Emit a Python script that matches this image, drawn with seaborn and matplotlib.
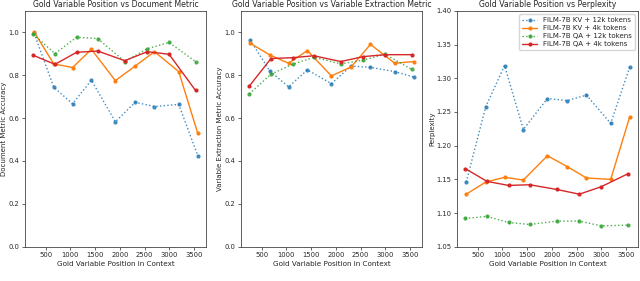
import numpy as np
import pandas as pd
import matplotlib
matplotlib.use("Agg")
import matplotlib.pyplot as plt
import seaborn as sns

# Gold variable positions (bin centres) for each model family
kv_pos = [270, 665, 1045, 1425, 1910, 2310, 2700, 3190, 3575]
qa_pos = [250, 690, 1125, 1555, 2100, 2555, 2995, 3530]

series_names = ["FILM-7B KV + 12k tokens", "FILM-7B KV + 4k tokens",
                "FILM-7B QA + 12k tokens", "FILM-7B QA + 4k tokens"]

# Document metric accuracy
doc_kv12 = [0.995, 0.744, 0.667, 0.777, 0.583, 0.674, 0.654, 0.664, 0.425]
doc_kv4 = [1.001, 0.853, 0.836, 0.921, 0.775, 0.843, 0.910, 0.817, 0.529]
doc_qa12 = [0.991, 0.901, 0.977, 0.971, 0.864, 0.924, 0.953, 0.864]
doc_qa4 = [0.893, 0.851, 0.907, 0.913, 0.868, 0.910, 0.898, 0.729]

# Variable extraction metric accuracy
var_kv12 = [0.964, 0.820, 0.746, 0.825, 0.761, 0.843, 0.837, 0.817, 0.792]
var_kv4 = [0.949, 0.895, 0.856, 0.915, 0.797, 0.839, 0.944, 0.856, 0.864]
var_qa12 = [0.713, 0.805, 0.851, 0.884, 0.853, 0.871, 0.898, 0.828]
var_qa4 = [0.749, 0.878, 0.882, 0.891, 0.864, 0.887, 0.896, 0.896]

# Perplexity
ppl_kv12 = [1.146, 1.258, 1.319, 1.224, 1.270, 1.267, 1.275, 1.233, 1.317]
ppl_kv4 = [1.128, 1.146, 1.153, 1.149, 1.185, 1.169, 1.152, 1.150, 1.243]
ppl_qa12 = [1.092, 1.095, 1.086, 1.083, 1.088, 1.088, 1.081, 1.082]
ppl_qa4 = [1.166, 1.147, 1.141, 1.142, 1.135, 1.128, 1.139, 1.158]

sns.set_style("ticks")
plt.rcParams["font.family"] = ["DejaVu Sans"]

colors = sns.color_palette("tab10", 4)
styles = [":", "-", ":", "-"]

fig = plt.figure(figsize=(6.4, 2.81), dpi=100)
lefts = [25 / 640, 241 / 640, 457 / 640]
axes = [fig.add_axes([l, 0.122, 181 / 640, 0.839]) for l in lefts]

panels = [
    ("Gold Variable Position vs Document Metric", "Document Metric Accuracy",
     [doc_kv12, doc_kv4, doc_qa12, doc_qa4], (0, 1.1), [0, 0.2, 0.4, 0.6, 0.8, 1.0], "{:.1f}"),
    ("Gold Variable Position vs Variable Extraction Metric", "Variable Extraction Metric Accuracy",
     [var_kv12, var_kv4, var_qa12, var_qa4], (0, 1.1), [0, 0.2, 0.4, 0.6, 0.8, 1.0], "{:.1f}"),
    ("Gold Variable Position vs Perplexity", "Perplexity",
     [ppl_kv12, ppl_kv4, ppl_qa12, ppl_qa4], (1.05, 1.40),
     [1.05, 1.10, 1.15, 1.20, 1.25, 1.30, 1.35, 1.40], "{:.2f}"),
]

for ax, (title, ylabel, data, ylim, yticks, fmt) in zip(axes, panels):
    for i, (name, vals) in enumerate(zip(series_names, data)):
        xs = kv_pos if i < 2 else qa_pos
        sns.lineplot(x=xs, y=vals, ax=ax, color=colors[i], linestyle=styles[i],
                     marker="o", markersize=3, markeredgewidth=0, linewidth=1,
                     alpha=0.85 if styles[i] == ":" else 1.0, label=name)
    ax.set_title(title, fontsize=5.6, pad=3)
    ax.set_xlabel("Gold Variable Position in Context", fontsize=5.2, labelpad=2)
    ax.set_ylabel(ylabel, fontsize=5.0, labelpad=1)
    ax.set_ylim(*ylim)
    ax.set_yticks(yticks)
    ax.set_yticklabels([fmt.format(t) for t in yticks])
    ax.set_xticks([500, 1000, 1500, 2000, 2500, 3000, 3500])
    ax.tick_params(labelsize=4.9, length=2, width=0.5, pad=2)
    for sp in ax.spines.values():
        sp.set_linewidth(0.6)
        sp.set_color("#444444")
    if ax is not axes[2]:
        ax.get_legend().remove()

axes[2].legend(loc="upper right", fontsize=5, frameon=True, handlelength=2.2,
               borderpad=0.4, labelspacing=0.3, framealpha=0.8)

fig.savefig("out.png", dpi=100)
